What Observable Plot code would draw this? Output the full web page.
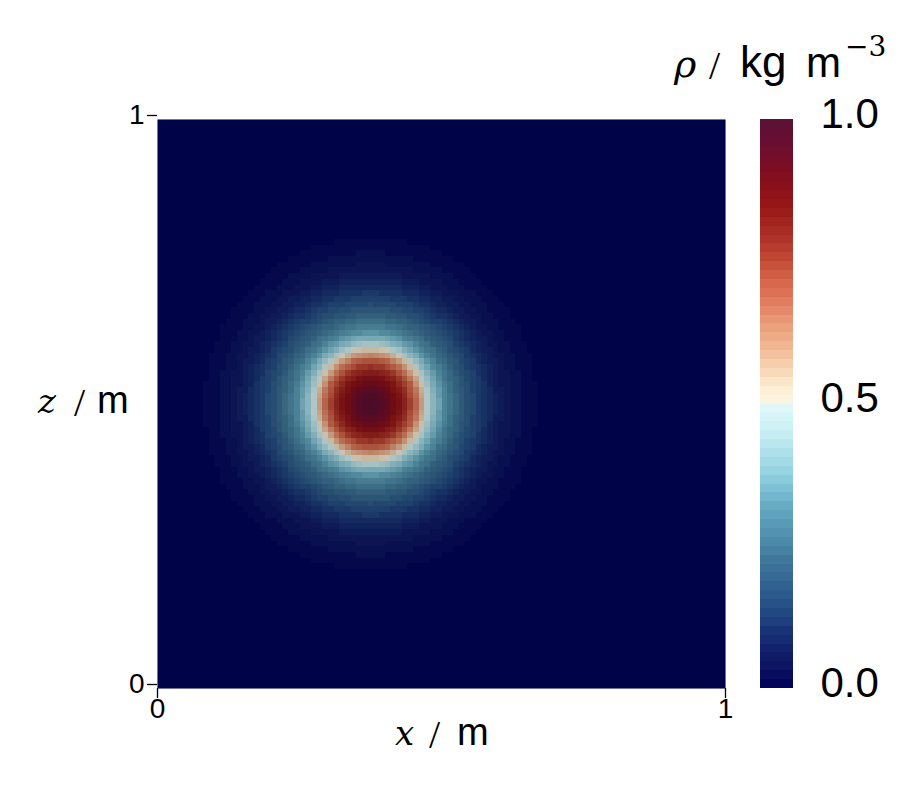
<!DOCTYPE html>
<html><head><meta charset="utf-8">
<script src="https://cdn.jsdelivr.net/npm/d3@7"></script>
<script src="https://cdn.jsdelivr.net/npm/@observablehq/plot@0.6"></script>
<style>
body{margin:0;background:#fff;}
#wrap{position:relative;width:917px;height:804px;overflow:hidden;background:#fff;}
#wrap > *{position:absolute;}
</style></head><body>
<div id="wrap"></div>
<script>
// ---- data ----
const xTicks = [0, 1];
const zTicks = [0, 1];
const barTicks = [0, 0.5, 1];
const blobCenterX = 0.375;
const blobCenterZ = 0.5;
const gridCells = 100;
// radial density profile (distance from blob centre in m -> rho)
const profileRadius = [0, 0.02, 0.04, 0.06, 0.08, 0.09, 0.10, 0.11, 0.12, 0.13, 0.14, 0.16, 0.18, 0.20, 0.22, 0.24, 0.27, 0.30, 0.34];
const profileRho    = [1.0, 0.97, 0.89, 0.80, 0.68, 0.58, 0.50, 0.42, 0.36, 0.31, 0.27, 0.21, 0.16, 0.115, 0.08, 0.052, 0.028, 0.012, 0.0];

// ---- colour map (Cool to Warm Extended), discretised in 64 bands ----
const cmapPos = [0,0.03125,0.0625,0.09375,0.125,0.15625,0.1875,0.21875,0.25,0.28125,0.3125,0.34375,0.375,0.40625,0.4375,0.46875,0.5,0.5001,0.52,0.54,0.5625,0.59375,0.625,0.65625,0.6875,0.71875,0.75,0.78125,0.8125,0.84375,0.875,0.90625,0.9375,0.96875,1];
const cmapRGB = [[0,0,0.349],[0.039,0.063,0.38],[0.063,0.118,0.412],[0.09,0.184,0.451],[0.125,0.263,0.502],[0.161,0.337,0.541],[0.2,0.396,0.569],[0.239,0.455,0.6],[0.286,0.522,0.651],[0.337,0.592,0.702],[0.388,0.655,0.749],[0.467,0.737,0.82],[0.573,0.82,0.878],[0.655,0.867,0.91],[0.753,0.918,0.941],[0.824,0.957,0.969],[0.89,0.973,0.98],[0.988,0.961,0.902],[0.988,0.945,0.851],[0.98,0.898,0.784],[0.969,0.835,0.698],[0.949,0.733,0.588],[0.929,0.651,0.51],[0.91,0.565,0.435],[0.878,0.459,0.353],[0.839,0.388,0.286],[0.761,0.294,0.212],[0.702,0.212,0.169],[0.651,0.157,0.129],[0.6,0.094,0.094],[0.549,0.067,0.098],[0.502,0.051,0.125],[0.451,0.055,0.173],[0.4,0.055,0.192],[0.349,0.071,0.212]];
const nBands = 64;
const cmapColors = cmapRGB.map(c => d3.rgb(c[0]*255, c[1]*255, c[2]*255));
const cmapScale = d3.scaleLinear().domain(cmapPos).range(cmapColors).interpolate(d3.interpolateLab).clamp(true);
const bandColor = t => {
  const i = Math.max(0, Math.min(nBands - 1, Math.floor(t * nBands)));
  return cmapScale((i + 0.5) / nBands);
};
const colorOpts = {type: "linear", domain: [0, 1], interpolate: bandColor};

const rhoOfR = d3.scaleLinear().domain(profileRadius).range(profileRho).clamp(true);
const rhoAt = (x, z) => rhoOfR(Math.hypot(x - blobCenterX, z - blobCenterZ));

const font = "'Liberation Sans', Arial, sans-serif";
const serif = "'DejaVu Serif', 'Liberation Serif', serif";
const slashFont = "'Liberation Serif', serif";

const main = Plot.plot({
  width: 917, height: 804,
  marginLeft: 157, marginRight: 192, marginTop: 119, marginBottom: 116,
  style: {fontFamily: font, background: "transparent", color: "#000"},
  x: {domain: [0, 1]},
  y: {domain: [0, 1]},
  color: colorOpts,
  marks: [
    Plot.raster({x1: 0, x2: 1, y1: 0, y2: 1, width: gridCells, height: gridCells, fill: rhoAt, imageRendering: "pixelated"}),
    Plot.frame({fill: "black", fillOpacity: 0.2, stroke: null}),
    Plot.axisX(xTicks, {tickSize: 10, tickPadding: 0, fontSize: 28, tickFormat: d => String(d), label: null, strokeWidth: 1.3}),
    Plot.axisY(zTicks, {tickSize: 10, tickPadding: 3, fontSize: 28, tickFormat: d => String(d), label: null, dy: -4, strokeWidth: 1.3})
  ]
});
document.getElementById("wrap").appendChild(main);
main.style.left = "0px"; main.style.top = "0px";

const bands = d3.range(nBands).map(i => ({lo: i / nBands, hi: (i + 1) / nBands, v: (i + 0.5) / nBands}));
const bar = Plot.plot({
  width: 157, height: 804,
  marginLeft: 0, marginRight: 124, marginTop: 119, marginBottom: 116,
  style: {fontFamily: font, background: "transparent", color: "#000"},
  x: {domain: [0, 1], axis: null},
  y: {domain: [0, 1]},
  color: colorOpts,
  marks: [
    Plot.rect(bands, {x1: 0, x2: 1, y1: "lo", y2: "hi", fill: "v", inset: 0, shapeRendering: "crispEdges"}),
    Plot.axisY(barTicks, {anchor: "right", tickSize: 0, tickPadding: 27, fontSize: 42, tickFormat: d3.format(".1f"), label: null, dy: -5})
  ]
});
document.getElementById("wrap").appendChild(bar);
bar.style.left = "760px"; bar.style.top = "0px";

// ---- titles ----
const svg = d3.select("#wrap").append("svg").attr("width", 917).attr("height", 804)
  .style("left", "0px").style("top", "0px").style("pointer-events", "none");

function piece(g, txt, x, y, family, size, italic) {
  const t = g.append("text").attr("x", x).attr("y", y).attr("fill", "#000")
    .attr("font-family", family).attr("font-size", size).text(txt);
  if (italic) t.attr("font-style", "italic");
  return t;
}
// colour bar title: rho / kg m^-3
piece(svg, "ρ", 674, 77, serif, 38, true);
piece(svg, "/", 709, 79, slashFont, 40, false);
piece(svg, "kg", 740, 77, font, 44, false);
piece(svg, "m", 806, 77, font, 42, false);
piece(svg, "−3", 845, 56, serif, 28, false);
// x label
piece(svg, "x", 395, 745, serif, 34, true);
piece(svg, "/", 429, 748, slashFont, 40, false);
piece(svg, "m", 457, 745, font, 38, false);
// z label
piece(svg, "z", 38, 413, serif, 34, true);
piece(svg, "/", 74, 416, slashFont, 40, false);
piece(svg, "m", 97, 413, font, 38, false);
</script>
</body></html>
